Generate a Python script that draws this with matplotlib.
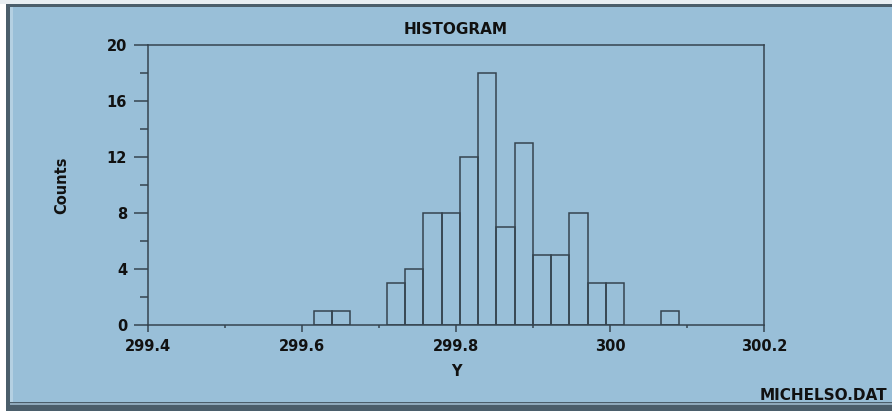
import matplotlib
matplotlib.use("Agg")
import matplotlib.pyplot as plt
from matplotlib.patches import Rectangle

# ---- data (Michelson speed-of-light histogram) ----
bin_centers = [299.6273, 299.6510, 299.7220, 299.7457, 299.7694, 299.7931,
               299.8168, 299.8405, 299.8643, 299.8880, 299.9117, 299.9354,
               299.9591, 299.9828, 300.0065, 300.0776]
counts = [1, 1, 3, 4, 8, 8, 12, 18, 7, 13, 5, 5, 8, 3, 3, 1]
bin_width = 0.0237
x_ticks = [299.4, 299.6, 299.8, 300.0, 300.2]
x_tick_labels = ["299.4", "299.6", "299.8", "300", "300.2"]
y_ticks = [0, 4, 8, 12, 16, 20]
title = "HISTOGRAM"
x_label = "Y"
y_label = "Counts"
footer = "MICHELSO.DAT"

W, H = 892, 411
BG = "#99bfd8"
LINE = "#35444f"
BORDER = "#4b5e6b"

fig = plt.figure(figsize=(W / 100, H / 100), dpi=100)
fig.patch.set_facecolor(BG)

def px_rect(x0, y0, x1, y1, color):
    fig.add_artist(Rectangle((x0 / W, 1 - y1 / H), (x1 - x0) / W, (y1 - y0) / H,
                             transform=fig.transFigure, facecolor=color,
                             edgecolor="none", zorder=-5))

# frame borders
px_rect(0, 0, 6, H, "#ffffff")
px_rect(0, 0, W, 4, "#e8eef2")
px_rect(6, 4, 10, H, BORDER)
px_rect(6, 4, W, 7, BORDER)
px_rect(10, 7, 13, 402, "#b4d0e2")
px_rect(6, 402, W, H, BORDER)
px_rect(10, 403, W, 405, "#8fa9bb")

left, right, top, bottom = 148, 764, 45, 325
ax = fig.add_axes([left / W, 1 - bottom / H, (right - left) / W, (bottom - top) / H])
ax.set_facecolor(BG)

ax.bar(bin_centers, counts, width=bin_width, facecolor="none",
       edgecolor=LINE, linewidth=1.1, zorder=3)

ax.set_xlim(299.4, 300.2)
ax.set_ylim(0, 20)
ax.set_xticks(x_ticks)
ax.set_xticklabels(x_tick_labels)
ax.set_xticks([299.5, 299.7, 299.9, 300.1], minor=True)
ax.set_yticks(y_ticks)
ax.set_yticks([2, 6, 10, 14, 18], minor=True)

for s in ax.spines.values():
    s.set_color(LINE)
    s.set_linewidth(1.1)

ax.tick_params(axis="x", which="major", direction="out", length=5, width=1.1,
               color=LINE, pad=5, labelsize=10.5)
ax.tick_params(axis="x", which="minor", direction="out", length=2.2, width=1.1,
               color=LINE)
ax.tick_params(axis="y", which="major", direction="out", length=10, width=1.1,
               color=LINE, pad=5, labelsize=10.5)
ax.tick_params(axis="y", which="minor", direction="out", length=5.8, width=1.1,
               color=LINE)
for lab in ax.get_xticklabels() + ax.get_yticklabels():
    lab.set_fontweight("bold")
    lab.set_color("#111111")

ax.set_title(title, fontsize=11, fontweight="bold", pad=8, color="#111111")
ax.set_xlabel(x_label, fontsize=10.5, fontweight="bold", labelpad=7, color="#111111")
ax.set_ylabel(y_label, fontsize=10.5, fontweight="bold", labelpad=27, color="#111111")

fig.text(887 / W, 1 - 395 / H, footer, ha="right", va="center",
         fontsize=11, fontweight="bold", color="#111111")

fig.savefig("out.png", dpi=100, facecolor=fig.get_facecolor())
